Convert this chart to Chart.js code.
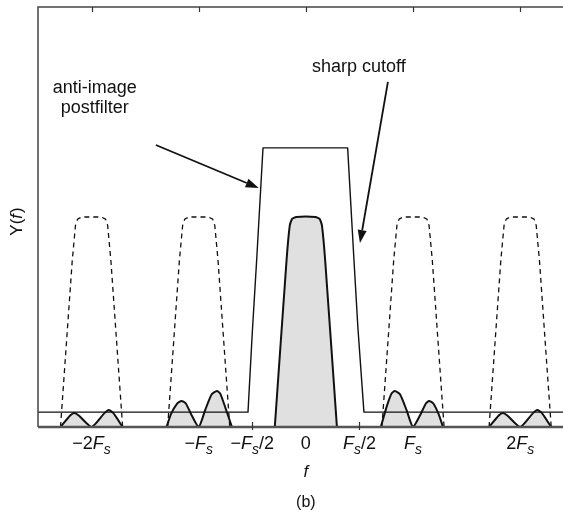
<!DOCTYPE html>
<html>
<head>
<meta charset="utf-8">
<script src="https://cdn.jsdelivr.net/npm/chart.js@4"></script>
<style>
  body { margin: 0; background: #fff; }
  canvas { display: block; }
</style>
</head>
<body>
<canvas id="chart" width="563" height="514"></canvas>
<script>
// frequency axis in units of Fs, magnitude in units of the baseband peak
const xMin = -2.5, xMax = 2.4, yMin = 0, yMax = 2;

const tickValues = [-2, -1, -0.5, 0, 0.5, 1, 2];
const tickLabels = ['−2F_s', '−F_s', '−F_s/2', '0', 'F_s/2', 'F_s', '2F_s'];
const topTicks = [-2, -1, 0, 1, 2];
const bottomTicks = [-0.5, 0.5];

// baseband spectrum (grey, solid outline)
const specX = [-0.29, -0.18, -0.15, -0.13, -0.09, 0.09, 0.13, 0.15, 0.18, 0.29];
const specY = [0, 0.795, 0.96, 0.99, 1.0, 1.0, 0.99, 0.96, 0.795, 0];

// spectral images before filtering (dashed) - same shape, centred on these
const imageCentres = [-2, -1, 1, 2];

// anti-image postfilter response
const filterX = [-2.5, -0.54, -0.50, -0.458, -0.40, 0.39, 0.449, 0.486, 0.542, 2.4];
const filterY = [0.071, 0.071, 0.45, 0.805, 1.329, 1.329, 0.795, 0.471, 0.071, 0.071];

// residual images after the filter (grey humps)
const humpM2X = [-2.29, -2.2, -2.16, -2.12, -2, -1.88, -1.84, -1.8, -1.71];
const humpM2Y = [0, 0.055, 0.067, 0.055, 0, 0.066, 0.081, 0.068, 0];
const humpM1X = [-1.30, -1.26, -1.2, -1.16, -1.12, -1.07, -1, -0.94, -0.88, -0.83, -0.8, -0.75, -0.69];
const humpM1Y = [0, 0.06, 0.112, 0.124, 0.112, 0.06, 0, 0.08, 0.155, 0.171, 0.16, 0.09, 0];
const humpP1X = [0.70, 0.75, 0.8, 0.83, 0.88, 0.94, 1, 1.07, 1.12, 1.15, 1.19, 1.24, 1.28];
const humpP1Y = [0, 0.09, 0.16, 0.171, 0.155, 0.08, 0, 0.06, 0.112, 0.124, 0.112, 0.06, 0];
const humpP2X = [1.71, 1.8, 1.84, 1.88, 2, 2.12, 2.16, 2.2, 2.29];
const humpP2Y = [0, 0.055, 0.067, 0.055, 0, 0.066, 0.081, 0.068, 0];

// annotations: text lines, text centre x, first baseline y, arrow tail, arrow tip
const notes = [
  { lines: ['anti-image', 'postfilter'], x: -1.97, y: 1.59, tail: [-1.40, 1.343], tip: [-0.44, 1.138] },
  { lines: ['sharp cutoff'], x: 0.495, y: 1.69, tail: [0.766, 1.643], tip: [0.505, 0.876] }
];

const FONT = '"Liberation Sans", Arial, Helvetica, sans-serif';
const GREY = '#e0e0e0';

function pts(xs, ys) {
  return xs.map((x, i) => ({ x: x, y: ys[i] }));
}

const datasets = [];
datasets.push({ data: pts(filterX, filterY), borderColor: '#111', borderWidth: 1.4, fill: false });
imageCentres.forEach(c => {
  datasets.push({
    data: pts(specX.map(x => x + c), specY),
    borderColor: '#111', borderWidth: 1.3, borderDash: [5, 4], fill: false
  });
});
[[humpM2X, humpM2Y], [humpM1X, humpM1Y], [humpP1X, humpP1Y], [humpP2X, humpP2Y]].forEach(h => {
  datasets.push({
    data: pts(h[0], h[1]), borderColor: '#111', borderWidth: 2,
    fill: 'origin', backgroundColor: GREY, tension: 0.2
  });
});
datasets.push({
  data: pts(specX, specY), borderColor: '#111', borderWidth: 2,
  fill: 'origin', backgroundColor: GREY, tension: 0.15
});

// draw "F_s" style label: F italic, s italic subscript
function drawMath(ctx, text, cx, y, size) {
  const runs = [];
  let i = 0;
  while (i < text.length) {
    if (text[i] === '_') { runs.push({ t: text[i + 1], sub: true }); i += 2; continue; }
    if (text[i] === 'F') { runs.push({ t: 'F', it: true }); i++; continue; }
    let j = i;
    while (j < text.length && text[j] !== '_' && text[j] !== 'F') j++;
    runs.push({ t: text.slice(i, j) });
    i = j;
  }
  const fontOf = r => r.sub ? 'italic ' + Math.round(size * 0.75) + 'px ' + FONT
                            : (r.it ? 'italic ' : '') + size + 'px ' + FONT;
  let w = 0;
  runs.forEach(r => { ctx.font = fontOf(r); r.w = ctx.measureText(r.t).width; w += r.w; });
  let x = cx - w / 2;
  ctx.textAlign = 'left';
  runs.forEach(r => {
    ctx.font = fontOf(r);
    ctx.fillText(r.t, x, r.sub ? y + 5 : y);
    x += r.w;
  });
}

const decor = {
  id: 'decor',
  afterDatasetsDraw(chart) {
    const ctx = chart.ctx;
    const a = chart.chartArea;
    const xs = chart.scales.x, ys = chart.scales.y;
    ctx.save();
    // box (no right edge, the figure is cut there)
    ctx.strokeStyle = '#444';
    ctx.lineWidth = 1.5;
    ctx.beginPath();
    ctx.moveTo(a.right, a.top); ctx.lineTo(a.left, a.top); ctx.lineTo(a.left, a.bottom);
    ctx.stroke();
    ctx.strokeStyle = '#555';
    ctx.lineWidth = 2.5;
    ctx.beginPath();
    ctx.moveTo(a.left, a.bottom); ctx.lineTo(a.right, a.bottom);
    ctx.stroke();
    // inward ticks
    ctx.strokeStyle = '#333';
    ctx.lineWidth = 1.2;
    topTicks.forEach(v => {
      const px = Math.round(xs.getPixelForValue(v)) + 0.5;
      ctx.beginPath(); ctx.moveTo(px, a.top); ctx.lineTo(px, a.top + 5); ctx.stroke();
    });
    bottomTicks.forEach(v => {
      const px = Math.round(xs.getPixelForValue(v)) + 0.5;
      ctx.beginPath(); ctx.moveTo(px, a.bottom + 3); ctx.lineTo(px, a.bottom - 5); ctx.stroke();
    });
    // tick labels
    ctx.fillStyle = '#111';
    ctx.textBaseline = 'alphabetic';
    tickValues.forEach((v, i) => {
      drawMath(ctx, tickLabels[i], xs.getPixelForValue(v), a.bottom + 22, 18);
    });
    // axis titles
    ctx.textAlign = 'center';
    ctx.font = 'italic 17px ' + FONT;
    ctx.fillText('f', xs.getPixelForValue(0), a.bottom + 50);
    ctx.font = '16px ' + FONT;
    ctx.fillText('(b)', xs.getPixelForValue(0), a.bottom + 80);
    ctx.save();
    ctx.translate(22, (a.top + a.bottom) / 2 + 5);
    ctx.rotate(-Math.PI / 2);
    ctx.textAlign = 'left';
    ctx.font = '17px ' + FONT;
    const w1 = ctx.measureText('Y(').width;
    ctx.font = 'italic 17px ' + FONT;
    const w2 = ctx.measureText('f').width;
    ctx.font = '17px ' + FONT;
    const w3 = ctx.measureText(')').width;
    let tx = -(w1 + w2 + w3) / 2;
    ctx.fillText('Y(', tx, 0); tx += w1;
    ctx.font = 'italic 17px ' + FONT;
    ctx.fillText('f', tx, 0); tx += w2 + 1;
    ctx.font = '17px ' + FONT;
    ctx.fillText(')', tx, 0);
    ctx.restore();
    // annotations with arrows
    ctx.font = '18px ' + FONT;
    ctx.textAlign = 'center';
    notes.forEach(n => {
      const tx0 = xs.getPixelForValue(n.x);
      const ty0 = ys.getPixelForValue(n.y);
      n.lines.forEach((l, k) => ctx.fillText(l, tx0, ty0 + k * 20));
      const x1 = xs.getPixelForValue(n.tail[0]), y1 = ys.getPixelForValue(n.tail[1]);
      const x2 = xs.getPixelForValue(n.tip[0]), y2 = ys.getPixelForValue(n.tip[1]);
      const ang = Math.atan2(y2 - y1, x2 - x1);
      const hl = 13, hw = 4.5;
      const bx = x2 - hl * Math.cos(ang), by = y2 - hl * Math.sin(ang);
      ctx.strokeStyle = '#111';
      ctx.lineWidth = 1.8;
      ctx.beginPath(); ctx.moveTo(x1, y1); ctx.lineTo(bx, by); ctx.stroke();
      ctx.beginPath();
      ctx.moveTo(x2, y2);
      ctx.lineTo(bx + hw * Math.sin(ang), by - hw * Math.cos(ang));
      ctx.lineTo(bx - hw * Math.sin(ang), by + hw * Math.cos(ang));
      ctx.closePath();
      ctx.fill();
    });
    ctx.restore();
  }
};

new Chart(document.getElementById('chart').getContext('2d'), {
  type: 'scatter',
  data: { datasets: datasets },
  options: {
    responsive: false,
    devicePixelRatio: 1,
    animation: false,
    showLine: true,
    layout: { padding: { left: 38, top: 7, right: 0, bottom: 87 } },
    elements: { point: { radius: 0, hoverRadius: 0 }, line: { borderJoinStyle: 'round' } },
    plugins: { legend: { display: false }, tooltip: { enabled: false } },
    scales: {
      x: { type: 'linear', min: xMin, max: xMax, display: false },
      y: { type: 'linear', min: yMin, max: yMax, display: false }
    }
  },
  plugins: [decor]
});
</script>
</body>
</html>
